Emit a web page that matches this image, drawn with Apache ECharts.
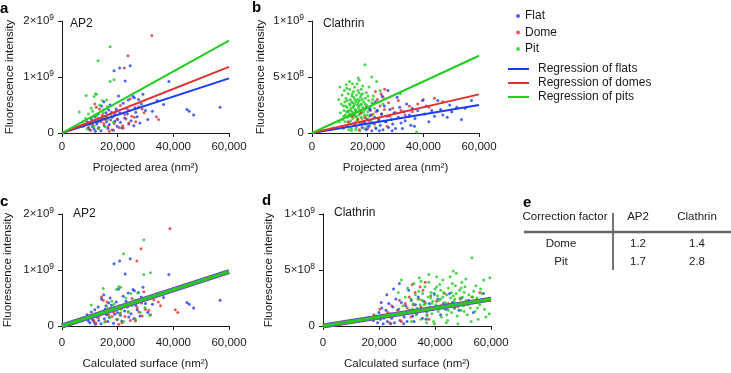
<!DOCTYPE html>
<html>
<head>
<meta charset="utf-8">
<script src="https://cdn.jsdelivr.net/npm/echarts@6/dist/echarts.min.js"></script>
<style>
html, body { margin: 0; padding: 0; background: #fff; }
#chart { width: 731px; height: 373px; }
</style>
</head>
<body>
<div id="chart"></div>
<script>
// x values in thousands of nm^2, y values in units of 1e8
const xTicks = ['0', '20,000', '40,000', '60,000']
const ap2YTicks = ['0', '1×10^9', '2×10^9']
const clathrinYTicks = ['0', '5×10^8', '1×10^9']

// a: AP2 vs projected area
const flatA = [[24.5,12.0],[20.7,11.6],[18.7,11.1],[22.7,9.3],[38.4,9.2],[44.9,4.2],[45.7,3.9],[47.3,3.2],[56.8,4.6],[29.1,6.9],[34.2,5.8],[36.5,5.1],[26.0,6.3],[25.5,6.5],[20.3,6.6],[17.3,5.0],[15.0,5.6],[22.0,5.3],[23.0,4.4],[28.5,5.2],[30.0,4.0],[32.5,3.9],[26.5,3.7],[19.5,4.3],[16.8,4.1],[14.2,4.8],[13.0,3.4],[11.8,2.9],[10.5,2.5],[9.0,2.0],[8.2,1.5],[7.5,1.2],[10.0,0.6],[11.0,1.1],[12.5,1.6],[13.5,2.2],[14.5,2.6],[15.5,3.0],[16.0,2.0],[17.0,1.5],[18.0,2.8],[19.0,3.3],[20.0,2.4],[21.0,1.9],[22.5,2.7],[23.5,3.4],[24.8,2.2],[25.8,1.3],[27.0,2.9],[28.0,1.8],[21.5,0.9],[19.8,1.2],[18.5,0.5],[16.5,0.8],[15.2,1.3],[14.0,0.4],[12.0,0.3],[11.5,0.7],[13.2,1.0],[9.5,0.9],[24.0,1.6],[26.2,4.5],[30.8,2.4],[17.8,3.7],[20.8,3.6],[23.8,5.9],[27.5,6.0],[19.0,2.1],[15.8,3.6],[12.8,2.0]]
const domeA = [[32.3,17.4],[23.7,13.8],[22.4,11.6],[33.9,2.9],[34.7,2.4],[24.5,6.1],[11.8,5.2],[12.3,4.6],[13.5,4.3],[14.5,3.2],[16.0,2.8],[17.5,2.3],[18.8,1.7],[19.5,3.9],[21.0,4.9],[22.5,3.3],[23.0,2.5],[24.0,1.8],[25.0,3.0],[26.5,2.0],[27.5,4.7],[28.8,4.3],[29.5,3.6],[20.5,1.0],[18.0,0.6],[16.5,1.1],[15.0,1.7],[13.0,0.8],[11.0,1.5],[10.2,0.5],[9.5,1.0],[12.0,2.3],[14.0,2.0],[17.0,0.3],[19.8,2.5],[21.8,1.3],[23.8,4.1],[26.0,2.8],[22.0,0.9],[15.5,2.4]]
const pitA = [[17.3,15.4],[13.0,12.9],[17.3,9.2],[18.7,9.5],[12.0,7.0],[12.4,6.9],[8.7,6.7],[6.2,3.75],[11.5,6.5],[14.5,5.8],[16.0,5.9],[13.5,5.0],[10.5,4.4],[9.5,3.4],[11.0,3.9],[12.5,3.0],[14.0,2.6],[15.0,4.2],[8.5,2.6],[7.5,2.0],[10.0,1.5],[11.5,1.2],[13.0,0.8],[16.5,2.4],[18.5,1.9],[15.5,1.1],[9.0,0.7],[12.2,2.2],[14.8,3.6],[17.5,3.3],[10.8,2.8],[16.2,4.7]]

// b: clathrin vs projected area
const flatB = [[18.0,0.5],[19.0,0.9],[19.5,0.3],[20.0,1.2],[20.5,0.6],[21.0,1.6],[21.5,0.2],[22.0,0.9],[22.5,1.4],[23.0,0.4],[23.5,2.0],[24.0,1.1],[24.5,0.7],[25.0,1.7],[25.5,0.3],[26.0,2.4],[26.5,1.0],[27.0,1.5],[27.5,0.5],[28.0,2.1],[28.5,1.2],[29.0,0.8],[29.5,1.8],[30.0,0.4],[30.6,3.2],[31.0,1.4],[31.5,2.3],[32.0,0.9],[33.0,1.9],[33.5,1.1],[34.0,2.6],[35.0,1.6],[35.5,0.7],[36.0,2.2],[37.0,1.3],[38.0,2.0],[39.7,2.9],[40.5,1.7],[41.0,2.4],[42.0,1.0],[43.0,2.0],[44.0,1.5],[45.2,2.9],[46.2,2.1],[47.0,1.6],[48.6,1.4],[49.5,2.5],[50.2,1.9],[52.0,2.3],[53.7,1.2],[55.0,2.2],[57.3,2.9],[27.3,3.8],[25.2,3.3],[22.8,2.8],[24.2,0.2],[28.8,0.2],[32.5,0.4],[36.8,0.6],[20.8,2.1]]
const domeB = [[13.0,1.0],[14.5,1.5],[15.5,0.7],[16.5,1.2],[17.5,1.8],[18.0,0.9],[19.0,1.4],[19.5,2.3],[20.5,1.1],[21.0,2.0],[21.5,1.6],[22.0,2.6],[22.5,0.8],[23.0,1.9],[23.5,3.0],[24.0,1.3],[24.5,2.4],[25.0,1.7],[25.5,3.2],[26.0,2.1],[26.5,1.0],[27.5,2.7],[28.0,1.5],[29.0,2.2],[30.0,1.8],[31.0,2.9],[32.0,2.0],[33.5,1.6],[35.0,2.4],[36.0,1.9],[38.0,2.6],[40.0,3.0],[42.0,2.3],[44.0,3.1],[47.0,2.8],[24.8,3.5],[22.8,3.7],[27.0,0.6],[20.0,0.4],[17.0,0.3],[26.1,3.9]]
const pitB = [[19.0,6.1],[16.6,4.9],[17.0,4.7],[21.4,5.0],[23.2,4.6],[10.0,4.1],[31.8,3.5],[37.6,0.1],[14.5,4.4],[18.2,4.2],[20.5,4.1],[12.5,4.0],[24.5,3.8],[22.0,3.3],
  [11.0,1.2],[11.5,2.0],[11.8,2.8],[12.0,1.6],[12.2,3.1],[12.5,0.6],[12.6,2.3],[12.8,1.4],[13.0,3.5],[13.1,2.0],[13.3,0.9],[13.4,2.6],[13.6,1.7],[13.8,3.0],[13.9,1.1],[14.0,2.2],[14.1,0.4],[14.3,3.3],[14.4,1.9],[14.6,2.7],[14.7,1.3],[14.9,3.7],[15.0,2.4],[15.1,0.8],[15.2,1.8],[15.4,3.0],[15.5,2.1],[15.6,1.5],[15.8,2.8],[15.9,0.5],[16.0,3.4],[16.1,1.9],[16.3,2.5],[16.4,1.2],[16.5,3.8],[16.7,2.2],[16.8,1.6],[17.0,2.9],[17.1,0.9],[17.3,2.0],[17.4,3.2],[17.6,1.4],[17.8,2.6],[17.9,1.8],[18.1,3.5],[18.3,2.3],[18.4,1.0],[18.6,2.8],[18.8,1.6],[19.0,2.1],[19.2,3.1],[19.4,1.3],[19.6,2.5],[19.8,0.6],[20.0,1.9],[20.3,2.9],[20.6,1.5],[20.9,2.3],[21.2,1.1],[21.5,2.7],[22.0,1.7],[22.5,2.2],[10.5,2.6],[10.2,1.8],[9.6,3.0],[9.8,1.0],[10.8,3.4],[11.3,0.4],[11.6,3.8],[12.3,4.3],[13.5,4.6],[15.3,4.1],[16.2,4.4],[17.7,3.9],[19.5,3.6],[14.2,0.2],[15.7,0.3],[17.2,0.2],[13.2,0.3],[18.9,0.4],[20.8,0.8],[12.9,1.9],[14.8,2.3],[16.6,2.7],[18.0,1.3],[15.4,1.6],[13.7,2.5],[16.9,3.6],[14.5,3.5],[12.1,2.4],[11.4,1.5],[20.1,3.3],[21.8,3.0],[23.5,2.0],[24.0,1.2],[25.5,2.6],[22.8,0.5],
  [11.2,2.4],[11.9,1.0],[12.4,1.9],[12.7,2.9],[13.2,1.6],[13.5,3.9],[13.9,2.0],[14.2,2.8],[14.6,1.6],[15.0,3.2],[15.3,2.6],[15.7,2.0],[16.0,1.4],[16.4,3.0],[16.8,2.4],[17.2,1.7],[17.5,2.5],[18.0,3.0],[18.5,1.9],[19.1,2.6],[19.7,1.6],[20.4,2.2],[14.0,1.5],[15.8,1.0],[17.6,3.4]]

// c: AP2 vs calculated surface
const flatC = flatA
const domeC = [[38.8,17.4],[28.4,13.8],[26.9,11.6],[40.7,2.9],[41.6,2.4],[29.4,6.1],[14.2,5.2],[14.8,4.6],[16.2,4.3],[17.4,3.2],[19.2,2.8],[21.0,2.3],[22.6,1.7],[23.4,3.9],[25.2,4.9],[27.0,3.3],[27.6,2.5],[28.8,1.8],[30.0,3.0],[31.8,2.0],[33.0,4.7],[34.6,4.3],[35.4,3.6],[24.6,1.0],[21.6,0.6],[19.8,1.1],[18.0,1.7],[15.6,0.8],[13.2,1.5],[12.2,0.5],[11.4,1.0],[14.4,2.3],[16.8,2.0],[20.4,0.3],[23.8,2.5],[26.2,1.3],[28.6,4.1],[31.2,2.8],[26.4,0.9],[18.6,2.4]]
const pitC = [[29.4,15.4],[22.1,12.9],[29.4,9.2],[31.8,9.5],[20.4,7.0],[21.1,6.9],[14.8,6.7],[10.5,3.75],[19.6,6.5],[24.7,5.8],[27.2,5.9],[23.0,5.0],[17.9,4.4],[16.2,3.4],[18.7,3.9],[21.3,3.0],[23.8,2.6],[25.5,4.2],[14.5,2.6],[12.8,2.0],[17.0,1.5],[19.6,1.2],[22.1,0.8],[28.1,2.4],[31.5,1.9],[26.4,1.1],[15.3,0.7],[20.7,2.2],[25.2,3.6],[29.8,3.3],[18.4,2.8],[27.5,4.7]]

// d: clathrin vs calculated surface
const flatD = flatB
const domeD = [[18.2,1.0],[20.3,1.5],[21.7,0.7],[23.1,1.2],[24.5,1.8],[25.2,0.9],[26.6,1.4],[27.3,2.3],[28.7,1.1],[29.4,2.0],[30.1,1.6],[30.8,2.6],[31.5,0.8],[32.2,1.9],[32.9,3.0],[33.6,1.3],[34.3,2.4],[35.0,1.7],[35.7,3.2],[36.4,2.1],[37.1,1.0],[38.5,2.7],[39.2,1.5],[40.6,2.2],[42.0,1.8],[43.4,2.9],[44.8,2.0],[46.9,1.6],[49.0,2.4],[50.4,1.9],[53.2,2.6],[56.0,3.0],[58.8,2.3],[34.7,3.5],[31.9,3.7],[37.8,0.6],[28.0,0.4],[23.8,0.3],[36.5,3.9]]
const pitD = [[53.2,6.1],[46.5,4.9],[47.6,4.7],[59.6,4.3],[28.0,4.1],[40.6,4.4],[51.0,4.2],[57.4,4.1],[35.0,4.0],
  [30.8,1.2],[32.2,2.0],[33.0,2.8],[33.6,1.6],[34.2,3.1],[35.0,0.6],[35.3,2.3],[35.8,1.4],[36.4,3.5],[36.7,2.0],[37.2,0.9],[37.5,2.6],[38.1,1.7],[38.6,3.0],[38.9,1.1],[39.2,2.2],[39.5,0.4],[40.0,3.3],[40.3,1.9],[40.9,2.7],[41.2,1.3],[41.7,3.7],[42.0,2.4],[42.3,0.8],[42.6,1.8],[43.1,3.0],[43.4,2.1],[43.7,1.5],[44.2,2.8],[44.5,0.5],[44.8,3.4],[45.1,1.9],[45.6,2.5],[45.9,1.2],[46.2,3.8],[46.8,2.2],[47.0,1.6],[47.6,2.9],[47.9,0.9],[48.4,2.0],[48.7,3.2],[49.3,1.4],[49.8,2.6],[50.1,1.8],[50.7,3.5],[51.2,2.3],[51.5,1.0],[52.1,2.8],[52.6,1.6],[53.2,2.1],[53.8,3.1],[54.3,1.3],[54.9,2.5],[55.4,0.6],[56.0,1.9],[56.8,2.9],[57.7,1.5],[58.5,2.3],[59.4,1.1],[29.4,2.6],[28.6,1.8],[26.9,3.0],[27.4,1.0],[30.2,3.4],[31.6,0.4],[32.5,3.8],[34.4,4.3],[37.8,4.6],[42.8,4.1],[45.4,4.4],[49.6,3.9],[54.6,3.6],[39.8,0.2],[44.0,0.3],[48.2,0.2],[37.0,0.3],[52.9,0.4],[58.2,0.8],[36.1,1.9],[41.4,2.3],[46.5,2.7],[50.4,1.3],[43.1,1.6],[38.4,2.5],[47.3,3.6],[40.6,3.5],[33.9,2.4],[31.9,1.5],[56.3,3.3],
  [31.4,2.4],[33.3,1.0],[34.7,1.9],[35.6,2.9],[37.0,1.6],[37.8,3.9],[38.9,2.0],[39.8,2.8],[40.9,1.6],[42.0,3.2],[42.8,2.6],[44.0,2.0],[44.8,1.4],[45.9,3.0],[47.0,2.4],[48.2,1.7],[49.0,2.5],[50.4,3.0],[51.8,1.9],[53.5,2.6],[55.2,1.6],[57.1,2.2],[39.2,1.5],[44.2,1.0],[49.3,3.4]]

// regression lines (start, end)
const regFlatA = [[0, 0], [60, 9.75]]
const regDomeA = [[0, 0], [60, 11.8]]
const regPitA = [[0, 0], [60, 16.5]]
const regFlatB = [[0, 0], [60, 2.5]]
const regDomeB = [[0, 0], [60, 3.45]]
const regPitB = [[0, 0], [60, 6.9]]
const regAllC = [[0, 0], [60, 9.7]]
const regAllD = [[0, 0], [60, 2.4]]

// table e
const tableHeader = ['Correction factor', 'AP2', 'Clathrin']
const tableRows = ['Dome', 'Pit']
const ap2Factors = ['1.2', '1.7']
const clathrinFactors = ['1.4', '2.8']

const FONT = "'Liberation Sans', Arial, Helvetica, sans-serif"
const BLUE = '#1a3cff'
const RED = '#e03030'
const GREEN = '#22cc22'
const INK = '#1a1a1a'

const chart = echarts.init(document.getElementById('chart'), null, { renderer: 'canvas' })

function yFmt(ticks, step) {
  return function (v) {
    const t = ticks[Math.round(v / step)]
    if (!t) return ''
    if (t.indexOf('^') < 0) return '{b|' + t + '}'
    const p = t.split('^')
    return '{b|' + p[0] + '}{s|' + p[1] + '}'
  }
}

function xAxis(i, name, gap, margin) {
  return {
    type: 'value', gridIndex: i, min: 0, max: 60, interval: 20,
    name: name, nameLocation: 'middle', nameGap: gap,
    nameTextStyle: { fontFamily: FONT, fontSize: 11.5, color: INK },
    axisLine: { lineStyle: { color: INK, width: 1 } },
    axisTick: { length: 4, lineStyle: { color: INK } },
    axisLabel: { fontFamily: FONT, fontSize: 11.5, color: INK, margin: margin,
      formatter: v => xTicks[Math.round(v / 20)] },
    splitLine: { show: false }
  }
}

function yAxis(i, max, step, ticks, gap) {
  return {
    type: 'value', gridIndex: i, min: 0, max: max, interval: step,
    name: 'Fluorescence intensity', nameLocation: 'middle', nameGap: gap,
    nameTextStyle: { fontFamily: FONT, fontSize: 11.5, color: INK },
    axisLine: { show: true, lineStyle: { color: INK, width: 1 } },
    axisTick: { show: true, length: 4, lineStyle: { color: INK } },
    axisLabel: { fontFamily: FONT, color: INK, margin: 8, formatter: yFmt(ticks, step),
      rich: {
        b: { fontFamily: FONT, fontSize: 11.5, color: INK, lineHeight: 16 },
        s: { fontFamily: FONT, fontSize: 8.5, color: INK, lineHeight: 9, verticalAlign: 'top' }
      } },
    splitLine: { show: false }
  }
}

function dots(name, color, data, i) {
  return { name: name, type: 'scatter', xAxisIndex: i, yAxisIndex: i, data: data,
    symbol: 'circle', symbolSize: 3, itemStyle: { color: color }, silent: true, z: 2 }
}

function reg(name, color, data, i, w) {
  return { name: name, type: 'line', xAxisIndex: i, yAxisIndex: i, data: data,
    showSymbol: false, symbol: 'none', itemStyle: { color: color },
    lineStyle: { color: color, width: w }, silent: true, z: 3 }
}

const textBase = { fontFamily: FONT, fontSize: 11.5, fill: INK }
const tableGraphics = []
const colX = [565, 638, 697]
tableHeader.forEach((t, k) => tableGraphics.push({ type: 'text', x: colX[k], y: 217,
  style: Object.assign({ text: t, textAlign: 'center', textVerticalAlign: 'middle' }, textBase) }))
tableRows.forEach((t, r) => {
  const y = 243.5 + r * 18.5
  const row = [t, ap2Factors[r], clathrinFactors[r]]
  row.forEach((c, k) => tableGraphics.push({ type: 'text', x: colX[k] - (k === 0 ? 4 : 0), y: y,
    style: Object.assign({ text: c, textAlign: 'center', textVerticalAlign: 'middle' }, textBase) }))
})
tableGraphics.push({ type: 'line', shape: { x1: 613, y1: 213, x2: 613, y2: 270 }, style: { stroke: INK, lineWidth: 1.2 } })
tableGraphics.push({ type: 'line', shape: { x1: 524, y1: 232, x2: 731, y2: 232 }, style: { stroke: '#666', lineWidth: 2.5 } })

const letter = (t, l, tp) => ({ text: t, left: l, top: tp, padding: 0,
  textStyle: { fontFamily: FONT, fontSize: 15, fontWeight: 'bold', color: '#000' } })
const ptitle = (t, l, tp) => ({ text: t, left: l, top: tp, padding: 0,
  textStyle: { fontFamily: FONT, fontSize: 12, fontWeight: 'normal', color: INK } })

chart.setOption({
  backgroundColor: '#ffffff',
  animation: false,
  title: [
    letter('a', 0, 1), letter('b', 252, 0), letter('c', 0, 194), letter('d', 262, 193), letter('e', 523, 195),
    ptitle('AP2', 70, 18), ptitle('Clathrin', 323, 18), ptitle('AP2', 73, 208), ptitle('Clathrin', 334, 207)
  ],
  legend: [{
    data: ['Flat', 'Dome', 'Pit'], orient: 'vertical', left: 516, top: 9, padding: 0,
    icon: 'circle', itemWidth: 4, itemHeight: 4, itemGap: 2.5,
    textStyle: { fontFamily: FONT, fontSize: 12, color: INK, lineHeight: 14 }
  }, {
    data: ['Regression of flats', 'Regression of domes', 'Regression of pits'],
    orient: 'vertical', left: 508, top: 62, padding: 0,
    icon: 'rect', itemWidth: 21, itemHeight: 2, itemGap: 0,
    textStyle: { fontFamily: FONT, fontSize: 12, color: INK, lineHeight: 14, padding: [0, 0, 0, 4] }
  }],
  grid: [
    { left: 62, top: 21, width: 167, height: 112 },
    { left: 312, top: 21, width: 167, height: 112 },
    { left: 62, top: 214, width: 167, height: 112 },
    { left: 323, top: 214, width: 168, height: 112 }
  ],
  xAxis: [
    xAxis(0, 'Projected area (nm²)', 29, 8),
    xAxis(1, 'Projected area (nm²)', 29, 8),
    xAxis(2, 'Calculated surface (nm²)', 32, 11),
    xAxis(3, 'Calculated surface (nm²)', 32, 11)
  ],
  yAxis: [
    yAxis(0, 20, 10, ap2YTicks, 46),
    yAxis(1, 10, 5, clathrinYTicks, 45),
    yAxis(2, 20, 10, ap2YTicks, 48),
    yAxis(3, 10, 5, clathrinYTicks, 48)
  ],
  graphic: tableGraphics,
  series: [
    dots('Flat', BLUE, flatA, 0), dots('Dome', RED, domeA, 0), dots('Pit', GREEN, pitA, 0),
    reg('Regression of flats', BLUE, regFlatA, 0, 2), reg('Regression of domes', RED, regDomeA, 0, 2), reg('Regression of pits', GREEN, regPitA, 0, 2),
    dots('Pit', GREEN, pitB, 1), dots('Dome', RED, domeB, 1), dots('Flat', BLUE, flatB, 1),
    reg('Regression of flats', BLUE, regFlatB, 1, 2), reg('Regression of domes', RED, regDomeB, 1, 2), reg('Regression of pits', GREEN, regPitB, 1, 2),
    dots('Flat', BLUE, flatC, 2), dots('Dome', RED, domeC, 2), dots('Pit', GREEN, pitC, 2),
    reg('Regression of flats', '#5a48e8', regAllC, 2, 5), reg('Regression of domes', '#8a5a7a', regAllC, 2, 4), reg('Regression of pits', GREEN, regAllC, 2, 3),
    dots('Flat', BLUE, flatD, 3), dots('Dome', RED, domeD, 3), dots('Pit', GREEN, pitD, 3),
    reg('Regression of flats', '#5a48e8', regAllD, 3, 5), reg('Regression of domes', '#8a5a7a', regAllD, 3, 4), reg('Regression of pits', GREEN, regAllD, 3, 3)
  ]
})
</script>
</body>
</html>
